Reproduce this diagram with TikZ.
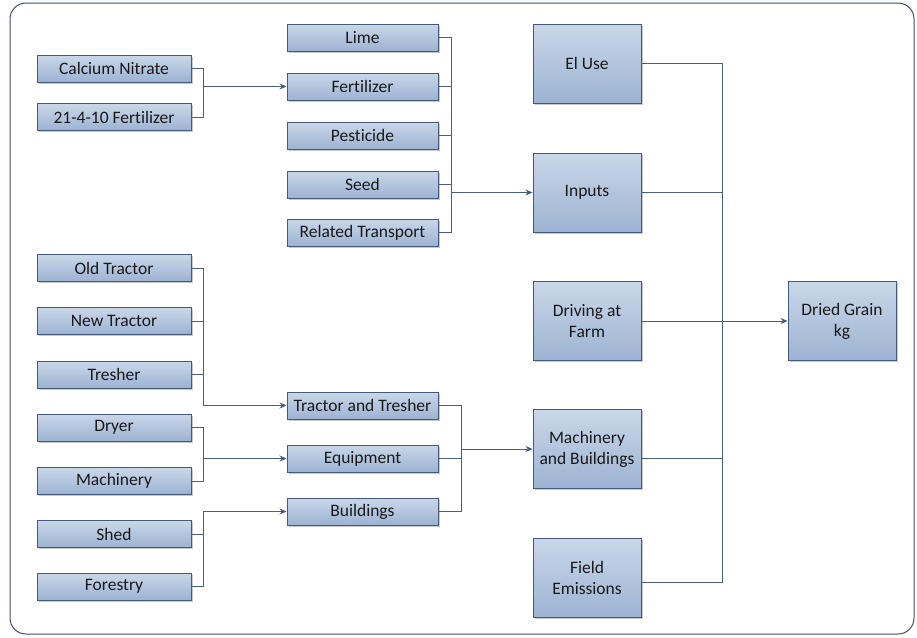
\documentclass[tikz,border=0pt]{standalone}
\usepackage{fontspec}
\setmainfont{Carlito}[Ligatures=NoCommon]
\usetikzlibrary{arrows.meta,shadows}
\definecolor{boxtop}{HTML}{CAD7E9}
\definecolor{boxbot}{HTML}{9CB3D2}
\definecolor{boxline}{HTML}{45597A}
\definecolor{conn}{HTML}{4A5E80}
\definecolor{arrowc}{HTML}{2A4C7E}
\definecolor{framec}{HTML}{3E506A}
\tikzset{
  bx/.style={draw=boxline, line width=0.9pt, top color=boxtop, bottom color=boxbot,
    drop shadow={shadow xshift=1.5pt, shadow yshift=-1.5pt, opacity=0.35, fill=black!60},
    inner sep=0pt, font=\fontsize{17.5}{21}\selectfont, text=black!90, align=center},
  small/.style={bx, minimum width=154pt, minimum height=27pt},
  mid/.style={bx, minimum width=151pt, minimum height=27pt},
  big/.style={bx, minimum width=108pt, minimum height=79pt},
  cn/.style={draw=conn, line width=0.8pt},
  arr/.style={cn, -{Stealth[length=7pt,width=6pt,fill=arrowc]}}
}
\begin{document}
\begin{tikzpicture}[x=1pt,y=-1pt]
\useasboundingbox (0,0) rectangle (917,637);
\fill[white] (0,0) rectangle (917,637);
\draw[framec, line width=1pt, rounded corners=16pt] (10,3) rectangle (914,634);

% left column
\node[small] (cnit) at (114,68.5) {Calcium Nitrate};
\node[small] (ff) at (114,117) {21-4-10 Fertilizer};
\node[small] (ot) at (114,268) {Old Tractor};
\node[small] (nt) at (114,321) {New Tractor};
\node[small] (tr) at (114,374.5) {Tresher};
\node[small] (dr) at (114,427.5) {Dryer};
\node[small] (ma) at (114,481) {Machinery};
\node[small] (sh) at (114,534) {Shed};
\node[small] (fo) at (114,586.5) {Forestry};

% middle column
\node[mid] (lime) at (362.5,37.5) {Lime};
\node[mid] (fert) at (362.5,86.5) {Fertilizer};
\node[mid] (pest) at (362.5,135.5) {Pesticide};
\node[mid] (seed) at (362.5,184.5) {Seed};
\node[mid] (rt) at (362.5,232.5) {Related Transport};
\node[mid] (tt) at (362.5,405.5) {Tractor and Tresher};
\node[mid] (eq) at (362.5,458.5) {Equipment};
\node[mid] (bu) at (362.5,511.5) {Buildings};

% big column
\node[big] (el) at (587,63.5) {El Use};
\node[big] (inp) at (587,192.5) {Inputs};
\node[big] (dv) at (587,321) {Driving at\\Farm};
\node[big] (mb) at (587,449) {Machinery\\and Buildings};
\node[big] (fe) at (587,578) {Field\\Emissions};
\node[big] (dg) at (842,321) {Dried Grain\\kg};

% junctions
\coordinate (j1) at (203,86.5);
\coordinate (j2) at (451,192.5);
\coordinate (j3) at (203,405.5);
\coordinate (j4) at (203,458.5);
\coordinate (j5) at (203,511.5);
\coordinate (j6) at (461,449);
\coordinate (j7) at (722,321);

\draw[cn] (cnit.east) -| (j1);
\draw[cn] (ff.east) -| (j1);
\draw[arr] (j1) -- (fert.west);

\foreach \n in {lime,fert,pest,seed,rt} \draw[cn] (\n.east) -| (j2);
\draw[arr] (j2) -- (inp.west);

\foreach \n in {ot,nt,tr} \draw[cn] (\n.east) -| (j3);
\draw[arr] (j3) -- (tt.west);

\draw[cn] (dr.east) -| (j4);
\draw[cn] (ma.east) -| (j4);
\draw[arr] (j4) -- (eq.west);

\draw[cn] (sh.east) -| (j5);
\draw[cn] (fo.east) -| (j5);
\draw[arr] (j5) -- (bu.west);

\foreach \n in {tt,eq,bu} \draw[cn] (\n.east) -| (j6);
\draw[arr] (j6) -- (mb.west);

\draw[cn] (el.east) -| (j7);
\draw[cn] (inp.east) -| (j7);
\draw[cn] (dv.east) -- (j7);
\draw[cn] ([yshift=-9pt]mb.east) -| (j7);
\draw[cn] ([yshift=-4pt]fe.east) -| (j7);
\draw[arr] (j7) -- (dg.west);
\end{tikzpicture}
\end{document}
